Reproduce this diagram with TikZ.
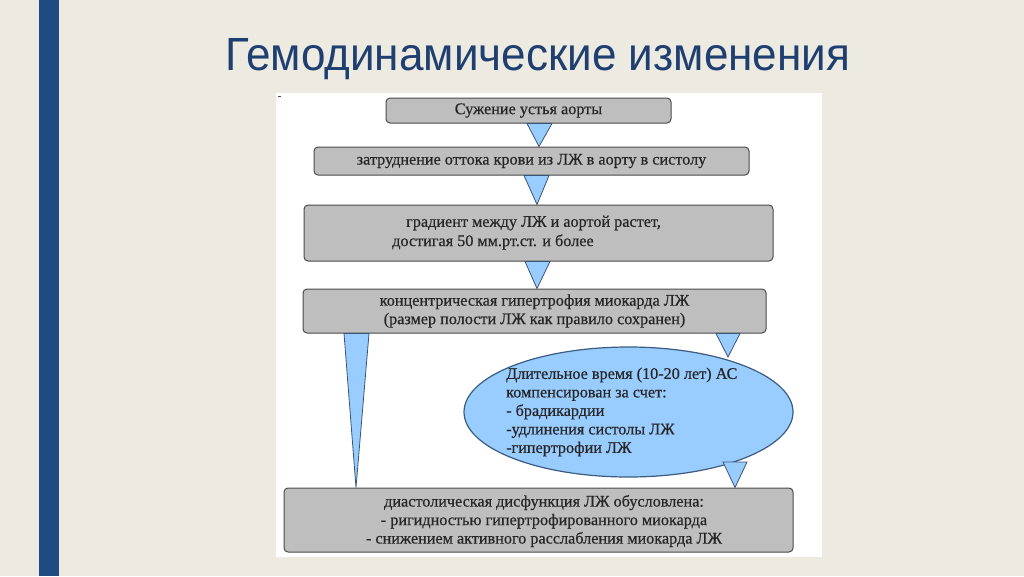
\documentclass[tikz,border=0pt]{standalone}
\usepackage{fontspec}
\usepackage{graphicx}
\setmainfont{Liberation Serif}[FakeBold=0.5]
\newfontfamily\titlefont{Liberation Sans}
\usetikzlibrary{shapes.geometric}
\definecolor{bgcol}{HTML}{EDEAE1}
\definecolor{barblue}{HTML}{1F4A82}
\definecolor{titleblue}{HTML}{1F3F70}
\definecolor{boxfill}{HTML}{BEBEBE}
\definecolor{boxline}{HTML}{4A4A4A}
\definecolor{trifill}{HTML}{99CCFF}
\definecolor{triline}{HTML}{3A5675}
\definecolor{ellline}{HTML}{3A5C80}
\tikzset{
  graybox/.style={draw=boxline, line width=1pt, fill=boxfill, rounded corners=4pt, inner sep=0pt},
  txt/.style={inner sep=0pt, font=\fontsize{16.2}{18.5}\selectfont, text=black!85},
  tri/.style={draw=triline, line width=0.8pt, fill=trifill, line join=miter},
  oval/.style={ellipse, draw=ellline, line width=1.2pt, fill=trifill, inner sep=0pt}
}
\begin{document}
\begin{tikzpicture}[x=1pt,y=-1pt]
\useasboundingbox (0,0) rectangle (1024,576);
\fill[bgcol] (0,0) rectangle (1024,576);
\fill[barblue] (39,0) rectangle (59,576);
\node[anchor=base west, inner sep=0pt, text=titleblue] (title) at (225,70)
  {\resizebox{625pt}{32pt}{\titlefont Гемодинамические изменения}};
\fill[white] (276,93) rectangle (822,557);
\draw[black!70, line width=0.8pt] (278,96) -- (281,96);

\node[graybox, minimum width=285pt, minimum height=25pt, txt] (b1) at (528.5,110.5) {Сужение устья аорты};
\node[graybox, minimum width=435pt, minimum height=28pt, txt] (b2) at (531.5,161) {затруднение оттока крови из ЛЖ в аорту в систолу};
\node[graybox, minimum width=469pt, minimum height=56pt] (b3) at (538.5,233) {};
\node[txt, anchor=west] (t3a) at (406,223) {градиент между ЛЖ и аортой растет,};
\node[txt, anchor=west] (t3b) at (392,242) {достигая 50 мм.рт.ст. и более};
\node[graybox, minimum width=463pt, minimum height=44pt, txt, align=center] (b4) at (534.5,311)
  {концентрическая гипертрофия миокарда ЛЖ\\(размер полости ЛЖ как правило сохранен)};
\node[oval, minimum width=329pt, minimum height=130pt] (ov) at (628.5,412) {};
\node[txt, anchor=west, align=left] (tov) at (506,412)
  {Длительное время (10-20 лет) АС\\компенсирован за счет:\\- брадикардии\\-удлинения систолы ЛЖ\\-гипертрофии ЛЖ};
\node[graybox, minimum width=509pt, minimum height=64pt] (b5) at (538.5,520) {};
\node[txt, align=center] (t5) at (544,521)
  {диастолическая дисфункция ЛЖ обусловлена:\\- ригидностью гипертрофированного миокарда\\- снижением активного расслабления миокарда ЛЖ};

\coordinate (ovtop) at (728,357);
\coordinate (ovlow) at (735,462);
\draw[tri] (527,0 |- b1.south) -- (552,0 |- b1.south) -- (539,0 |- b2.north) -- cycle;
\draw[tri] (524,0 |- b2.south) -- (549,0 |- b2.south) -- (537,0 |- b3.north) -- cycle;
\draw[tri] (525,0 |- b3.south) -- (550,0 |- b3.south) -- (537,0 |- b4.north) -- cycle;
\draw[tri] (344,0 |- b4.south) -- (369,0 |- b4.south) -- (356,0 |- b5.north) -- cycle;
\draw[tri] (716,0 |- b4.south) -- (740,0 |- b4.south) -- (ovtop) -- cycle;
\draw[tri] (723,0 |- ovlow) -- (747,0 |- ovlow) -- (735,0 |- b5.north) -- cycle;
\end{tikzpicture}
\end{document}
